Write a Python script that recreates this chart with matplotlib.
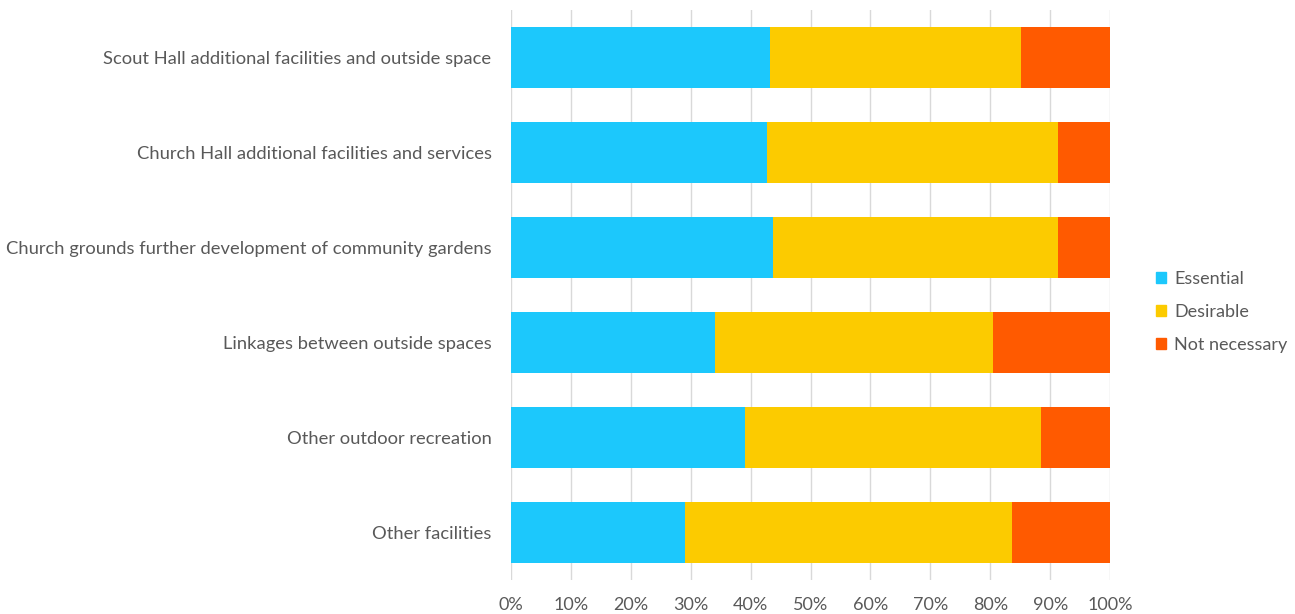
import numpy as np
import matplotlib.pyplot as plt
from matplotlib.patches import Patch
from matplotlib.ticker import PercentFormatter

plt.rcParams['font.family'] = ['Lato', 'DejaVu Sans']

categories = [
    'Scout Hall additional facilities and outside space',
    'Church Hall additional facilities and services',
    'Church grounds further development of community gardens',
    'Linkages between outside spaces',
    'Other outdoor recreation',
    'Other facilities',
]
essential = [43.2, 42.7, 43.8, 34.0, 39.1, 29.0]
desirable = [41.9, 48.6, 47.5, 46.4, 49.4, 54.6]
not_necessary = [14.9, 8.7, 8.7, 19.6, 11.5, 16.4]

series_names = ['Essential', 'Desirable', 'Not necessary']
colors = ['#1CC8FC', '#FCCB00', '#FF5A00']

fig = plt.figure(figsize=(12.95, 6.14), dpi=100)
ax = fig.add_axes([0.3946, 0.0554, 0.4626, 0.9283])

y = np.arange(len(categories))
left = np.zeros(len(categories))
for vals, c in zip([essential, desirable, not_necessary], colors):
    ax.barh(y, vals, left=left, height=0.64, color=c, zorder=3)
    left += np.array(vals)

ax.set_xlim(0, 100)
ax.set_ylim(len(categories) - 0.5, -0.5)
ax.set_yticks(y)
ax.set_yticklabels(categories)
ax.set_xticks(np.arange(0, 101, 10))
ax.xaxis.set_major_formatter(PercentFormatter(decimals=0))
ax.grid(axis='x', color='#D9D9D9', linewidth=1, zorder=0)
for s in ax.spines.values():
    s.set_visible(False)
ax.tick_params(axis='y', length=0, pad=14, labelsize=13.2, labelcolor='#595959')
ax.tick_params(axis='x', length=0, pad=12, labelsize=13, labelcolor='#595959')

handles = [Patch(color=c, label=n) for c, n in zip(colors, series_names)]
fig.legend(handles=handles, loc='center left', bbox_to_anchor=(0.88, 0.492),
           frameon=False, handlelength=0.55, handleheight=0.55, handletextpad=0.45,
           labelspacing=0.92, fontsize=13, labelcolor='#595959')

fig.savefig('out.png', dpi=100)
